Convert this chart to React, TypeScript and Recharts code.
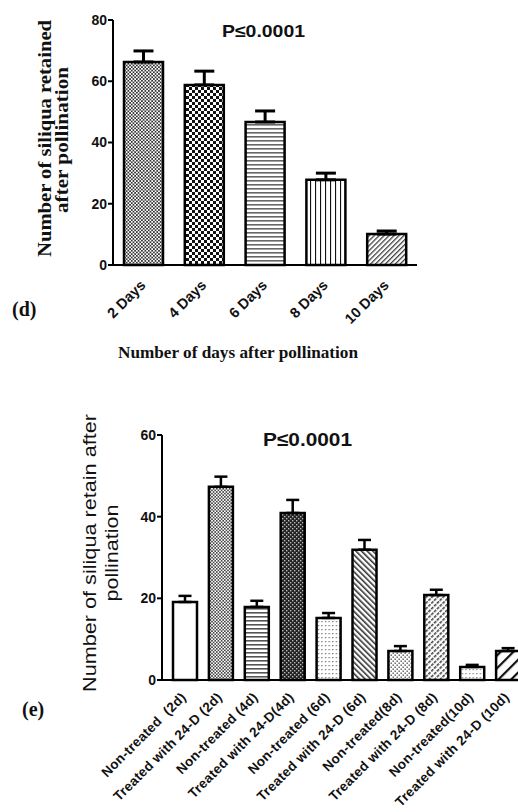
import React from 'react';
import { BarChart, Bar, XAxis, YAxis, ErrorBar, Cell } from 'recharts';

// ---- Panel (d) data ----
const dayCategories = ['2 Days', '4 Days', '6 Days', '8 Days', '10 Days'];
const dayMeans = [66.3, 58.8, 46.7, 27.8, 10.1];
const dayErrUpper = [3.6, 4.5, 3.6, 2.2, 1.0];
const dayTicks = [0, 20, 40, 60, 80];
const dayPatterns = ['t1', 't2', 't3', 't4', 't5'];

// ---- Panel (e) data ----
const treatCategories = [
  'Non-treated  (2d)',
  'Treated with 24-D (2d)',
  'Non-treated (4d)',
  'Treated with 24-D(4d)',
  'Non-treated (6d)',
  'Treated with 24-D (6d)',
  'Non-treated(8d)',
  'Treated with 24-D (8d)',
  'Non-treated(10d)',
  'Treated with 24-D (10d)',
];
const treatMeans = [19.1, 47.3, 17.9, 40.9, 15.2, 31.9, 7.1, 20.8, 3.2, 7.1];
const treatErrUpper = [1.5, 2.5, 1.5, 3.2, 1.2, 2.4, 1.2, 1.3, 0.5, 0.7];
const treatTicks = [0, 20, 40, 60];
const treatPatterns = ['b1', 'b2', 'b3', 'b4', 'b5', 'b6', 'b7', 'b8', 'b9', 'b10'];

const dayData = dayCategories.map((name, i) => ({
  name,
  value: dayMeans[i],
  err: [0, dayErrUpper[i]],
}));
const treatData = treatCategories.map((name, i) => ({
  name,
  value: treatMeans[i],
  err: [0, treatErrUpper[i]],
}));

const SANS = '"Liberation Sans", Arial, sans-serif';
const SERIF = '"Liberation Serif", "Times New Roman", serif';

const DayTick = (props: any) => {
  const { x, y, payload } = props;
  return (
    <text
      x={0}
      y={0}
      transform={`translate(${x + 3},${y + 21}) rotate(-45)`}
      textAnchor="end"
      fontFamily={SANS}
      fontWeight="bold"
      fontSize={14.5}
      fill="#111"
    >
      {payload.value}
    </text>
  );
};

const TreatTick = (props: any) => {
  const { x, y, payload } = props;
  return (
    <text
      x={0}
      y={0}
      transform={`translate(${x + 2},${y + 18}) rotate(-45)`}
      textAnchor="end"
      fontFamily={SANS}
      fontWeight="bold"
      fontSize={13.5}
      letterSpacing={0.3}
      fill="#111"
      style={{ whiteSpace: 'pre' }}
    >
      {payload.value}
    </text>
  );
};

const Patterns = () => (
  <svg width={0} height={0} style={{ position: 'absolute' }}>
    <defs>
      {/* top panel */}
      <pattern id="t1" patternUnits="userSpaceOnUse" width={3.4} height={3.4}>
        <rect width={3.4} height={3.4} fill="#fff" />
        <rect x={0} y={0} width={1.7} height={1.7} fill="#333" />
        <rect x={1.7} y={1.7} width={1.7} height={1.7} fill="#333" />
      </pattern>
      <pattern id="t2" patternUnits="userSpaceOnUse" width={6} height={6}>
        <rect width={6} height={6} fill="#fff" />
        <rect x={0} y={0} width={3} height={3} fill="#111" />
        <rect x={3} y={3} width={3} height={3} fill="#111" />
      </pattern>
      <pattern id="t3" patternUnits="userSpaceOnUse" width={4} height={4}>
        <rect width={4} height={4} fill="#fff" />
        <rect x={0} y={0} width={4} height={1.6} fill="#666" />
      </pattern>
      <pattern id="t4" patternUnits="userSpaceOnUse" width={5} height={5}>
        <rect width={5} height={5} fill="#fff" />
        <rect x={0} y={0} width={1.1} height={5} fill="#111" />
      </pattern>
      <pattern id="t5" patternUnits="userSpaceOnUse" width={3.5} height={3.5} patternTransform="rotate(45)">
        <rect width={3.5} height={3.5} fill="#fff" />
        <rect x={0} y={0} width={1.3} height={3.5} fill="#444" />
      </pattern>
      {/* bottom panel */}
      <pattern id="b1" patternUnits="userSpaceOnUse" width={4} height={4}>
        <rect width={4} height={4} fill="#fff" />
      </pattern>
      <pattern id="b2" patternUnits="userSpaceOnUse" width={3.2} height={3.2}>
        <rect width={3.2} height={3.2} fill="#fff" />
        <rect x={0} y={0} width={1.6} height={1.6} fill="#444" />
        <rect x={1.6} y={1.6} width={1.6} height={1.6} fill="#444" />
      </pattern>
      <pattern id="b3" patternUnits="userSpaceOnUse" width={4} height={4}>
        <rect width={4} height={4} fill="#fff" />
        <rect x={0} y={0} width={4} height={1.6} fill="#555" />
      </pattern>
      <pattern id="b4" patternUnits="userSpaceOnUse" width={4} height={4}>
        <rect width={4} height={4} fill="#222" />
        <rect x={0} y={0} width={1.4} height={1.4} fill="#bbb" />
        <rect x={2} y={2} width={1.4} height={1.4} fill="#bbb" />
      </pattern>
      <pattern id="b5" patternUnits="userSpaceOnUse" width={3.6} height={4}>
        <rect width={3.6} height={4} fill="#fff" />
        <rect x={1} y={1} width={1.2} height={1.2} fill="#666" />
      </pattern>
      <pattern id="b6" patternUnits="userSpaceOnUse" width={4} height={4} patternTransform="rotate(-45)">
        <rect width={4} height={4} fill="#fff" />
        <rect x={0} y={0} width={1.6} height={4} fill="#333" />
      </pattern>
      <pattern id="b7" patternUnits="userSpaceOnUse" width={4} height={4}>
        <rect width={4} height={4} fill="#fff" />
        <rect x={0.5} y={0.5} width={1.4} height={1.4} fill="#555" />
        <rect x={2.5} y={2.5} width={1.4} height={1.4} fill="#555" />
      </pattern>
      <pattern id="b8" patternUnits="userSpaceOnUse" width={4} height={4} patternTransform="rotate(45)">
        <rect width={4} height={4} fill="#fff" />
        <rect x={0} y={0} width={1.6} height={3} fill="#444" />
      </pattern>
      <pattern id="b9" patternUnits="userSpaceOnUse" width={3.6} height={4}>
        <rect width={3.6} height={4} fill="#fff" />
        <rect x={1} y={1} width={1.2} height={1.2} fill="#777" />
      </pattern>
      <pattern id="b10" patternUnits="userSpaceOnUse" width={9} height={9} patternTransform="rotate(45)">
        <rect width={9} height={9} fill="#fff" />
        <rect x={0} y={0} width={2.2} height={9} fill="#111" />
      </pattern>
    </defs>
  </svg>
);

const Overlay = () => (
  <svg
    width={518}
    height={812}
    style={{ position: 'absolute', left: 0, top: 0, pointerEvents: 'none' }}
  >
    {/* panel d */}
    <text x={222} y={37} fontFamily={SANS} fontWeight="bold" fontSize={17} textLength={83} lengthAdjust="spacingAndGlyphs" fill="#111">
      P≤0.0001
    </text>
    <text
      transform="translate(51,138.5) rotate(-90)"
      textAnchor="middle"
      fontFamily={SERIF}
      fontWeight="bold"
      fontSize={18}
      textLength={237}
      lengthAdjust="spacingAndGlyphs"
      fill="#111"
    >
      Number of siliqua retained
    </text>
    <text
      transform="translate(68,140) rotate(-90)"
      textAnchor="middle"
      fontFamily={SERIF}
      fontWeight="bold"
      fontSize={18}
      textLength={146}
      lengthAdjust="spacingAndGlyphs"
      fill="#111"
    >
      after pollination
    </text>
    <text x={12} y={316} fontFamily={SERIF} fontWeight="bold" fontSize={20} fill="#111">
      (d)
    </text>
    <text x={118} y={358} fontFamily={SERIF} fontWeight="bold" fontSize={16} textLength={240} lengthAdjust="spacingAndGlyphs" fill="#111">
      Number of days after pollination
    </text>

    {/* panel e */}
    <text x={263} y={446} fontFamily={SANS} fontWeight="bold" fontSize={19} textLength={89} lengthAdjust="spacingAndGlyphs" fill="#111">
      P≤0.0001
    </text>
    <text
      transform="translate(96,553) rotate(-90)"
      textAnchor="middle"
      fontFamily={SANS}
      fontSize={19}
      textLength={278}
      lengthAdjust="spacingAndGlyphs"
      fill="#111"
    >
      Number of siliqua retain after
    </text>
    <text
      transform="translate(118,553) rotate(-90)"
      textAnchor="middle"
      fontFamily={SANS}
      fontSize={19}
      textLength={97}
      lengthAdjust="spacingAndGlyphs"
      fill="#111"
    >
      pollination
    </text>
    <text x={22} y={716} fontFamily={SERIF} fontWeight="bold" fontSize={20} fill="#111">
      (e)
    </text>
  </svg>
);

const axisTickStyle = { fontFamily: SANS, fontWeight: 'bold' as const, fontSize: 14, fill: '#111' };

export default function App() {
  return (
    <div
      style={{
        position: 'absolute',
        left: 0,
        top: 0,
        width: 518,
        height: 812,
        overflow: 'hidden',
        background: '#fff',
      }}
    >
      <Patterns />
      <div style={{ position: 'absolute', left: 0, top: 0 }}>
        <BarChart
          width={430}
          height={330}
          data={dayData}
          margin={{ top: 20, right: 13, left: 0, bottom: 0 }}
        >
          <XAxis
            dataKey="name"
            height={65}
            axisLine={{ stroke: '#000', strokeWidth: 2 }}
            tickLine={false}
            tickSize={0}
            tickMargin={0}
            interval={0}
            tick={<DayTick />}
          />
          <YAxis
            width={113}
            domain={[0, 80]}
            ticks={dayTicks}
            interval={0}
            axisLine={{ stroke: '#000', strokeWidth: 2 }}
            tickLine={{ stroke: '#000', strokeWidth: 2 }}
            tickSize={5}
            tickMargin={1}
            tick={axisTickStyle}
          />
          <Bar dataKey="value" barSize={39} stroke="#000" strokeWidth={2.5} isAnimationActive={false}>
            {dayData.map((d, i) => (
              <Cell key={d.name} fill={`url(#${dayPatterns[i]})`} />
            ))}
            <ErrorBar dataKey="err" direction="y" width={10} stroke="#000" strokeWidth={3} isAnimationActive={false} />
          </Bar>
        </BarChart>
      </div>
      <div style={{ position: 'absolute', left: 0, top: 400 }}>
        <BarChart
          width={528}
          height={412}
          data={treatData}
          margin={{ top: 35, right: 2, left: 0, bottom: 0 }}
        >
          <XAxis
            dataKey="name"
            height={132}
            padding={{ left: 5, right: 0 }}
            axisLine={{ stroke: '#000', strokeWidth: 2 }}
            tickLine={false}
            tickSize={0}
            tickMargin={0}
            interval={0}
            tick={<TreatTick />}
          />
          <YAxis
            width={162}
            domain={[0, 60]}
            ticks={treatTicks}
            interval={0}
            axisLine={{ stroke: '#000', strokeWidth: 2 }}
            tickLine={{ stroke: '#000', strokeWidth: 2 }}
            tickSize={5}
            tickMargin={1}
            tick={axisTickStyle}
          />
          <Bar dataKey="value" barSize={24} stroke="#000" strokeWidth={2.5} isAnimationActive={false}>
            {treatData.map((d, i) => (
              <Cell key={d.name} fill={`url(#${treatPatterns[i]})`} />
            ))}
            <ErrorBar dataKey="err" direction="y" width={6.5} stroke="#000" strokeWidth={2.5} isAnimationActive={false} />
          </Bar>
        </BarChart>
      </div>
      <Overlay />
    </div>
  );
}
